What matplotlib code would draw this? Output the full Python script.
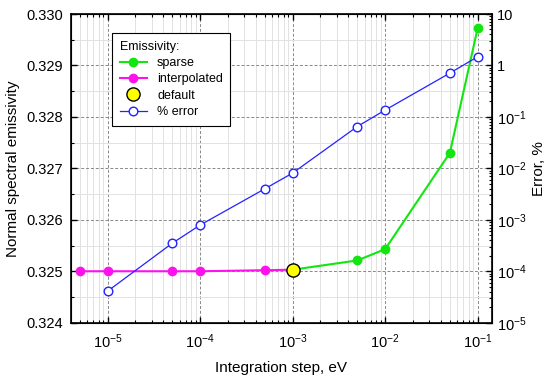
import numpy as np
import matplotlib
matplotlib.use("Agg")
import matplotlib.pyplot as plt
from matplotlib.ticker import LogLocator, MultipleLocator, NullFormatter

plt.rcParams['font.family'] = ['Liberation Sans', 'DejaVu Sans']
plt.rcParams['mathtext.fontset'] = 'custom'
plt.rcParams['mathtext.rm'] = 'Liberation Sans'

# interpolated emissivity
x_interp = [5e-6, 1e-5, 5e-5, 1e-4, 5e-4, 1e-3]
y_interp = [0.32500, 0.32500, 0.32500, 0.32500, 0.32502, 0.32503]

# sparse emissivity
x_sparse = [1e-3, 5e-3, 1e-2, 5e-2, 1e-1]
y_sparse = [0.32503, 0.32521, 0.32543, 0.32730, 0.32973]

# default point
x_default = [1e-3]
y_default = [0.32503]

# % error
x_err = [1e-5, 5e-5, 1e-4, 5e-4, 1e-3, 5e-3, 1e-2, 5e-2, 1e-1]
y_err = [4.1e-5, 3.5e-4, 7.9e-4, 4.0e-3, 8.1e-3, 0.065, 0.136, 0.71, 1.48]

fig = plt.figure(figsize=(5.5, 3.81), dpi=100)
ax = fig.add_axes([71/550, 1 - 322.7/381, (491.7-71)/550, (322.7-14)/381])

ax.set_xscale('log')
ax.set_xlim(10**-5.395, 10**-0.849)
ax.set_ylim(0.324, 0.330)
ax.yaxis.set_major_locator(MultipleLocator(0.001))
ax.yaxis.set_minor_locator(MultipleLocator(0.0005))
ax.xaxis.set_major_locator(LogLocator(base=10, numticks=20))
ax.xaxis.set_minor_locator(LogLocator(base=10, subs=np.arange(2, 10), numticks=20))
ax.xaxis.set_minor_formatter(NullFormatter())

ax.grid(which='major', color='#888888', linestyle=(0, (3, 2)), linewidth=0.7)
ax.grid(which='minor', color='#e2e2e2', linestyle='-', linewidth=0.7)
ax.set_axisbelow(True)

ax.tick_params(which='both', direction='in', top=True, labelsize=10.5)
ax.tick_params(which='major', length=4, width=1)
ax.tick_params(which='minor', length=2, width=0.8)
ax.tick_params(axis='x', which='major', pad=7)
ax.tick_params(axis='y', which='major', pad=6)
for s in ax.spines.values():
    s.set_linewidth(1.2)

l_sparse, = ax.plot(x_sparse, y_sparse, '-o', color='#11e611', markersize=6, linewidth=1.5,
                    label='sparse', zorder=4)
l_interp, = ax.plot(x_interp, y_interp, '-o', color='#ff11ee', markersize=6, linewidth=1.5,
                    label='interpolated', zorder=4)
l_default, = ax.plot(x_default, y_default, 'o', color='#ffff00', markeredgecolor='black',
                     markersize=9.5, linestyle='none', label='default', zorder=5)

ax.set_xlabel('Integration step, eV', fontsize=11, labelpad=7)
ax.set_ylabel('Normal spectral emissivity', fontsize=11)

ax2 = ax.twinx()
ax2.set_yscale('log')
ax2.set_ylim(1e-5, 10)
l_err, = ax2.plot(x_err, y_err, '-o', color='#2222ff', markerfacecolor='white',
                  markeredgecolor='#2222ff', markersize=6.2, linewidth=0.9, label='% error')
ax2.yaxis.set_major_locator(LogLocator(base=10, numticks=20))
ax2.yaxis.set_minor_locator(LogLocator(base=10, subs=np.arange(2, 10), numticks=20))
ax2.yaxis.set_minor_formatter(NullFormatter())
ax2.yaxis.set_major_formatter(plt.FuncFormatter(
    lambda v, p: '1' if abs(v - 1) < 1e-9 else ('10' if abs(v - 10) < 1e-9 else
                 r'$\mathregular{10^{%d}}$' % round(np.log10(v)))))
ax2.tick_params(which='both', direction='in', labelsize=10.5)
ax2.tick_params(which='major', length=4, width=1)
ax2.tick_params(which='minor', length=2, width=0.8)
ax2.set_ylabel('Error, %', fontsize=11)

# no offset texts
for a in (ax, ax2):
    a.xaxis.offsetText.set_visible(False)
    a.yaxis.offsetText.set_visible(False)

leg = ax2.legend(handles=[l_sparse, l_interp, l_default, l_err], title='Emissivity:',
                 loc='upper left', bbox_to_anchor=(0.0975, 0.938), borderaxespad=0,
                 fontsize=9, title_fontsize=9, frameon=True, fancybox=False,
                 edgecolor='black', framealpha=1, handlelength=2.2, borderpad=0.6,
                 labelspacing=0.35)
leg._legend_box.align = 'left'
leg.get_frame().set_linewidth(0.8)

fig.savefig('out.png', dpi=100)
